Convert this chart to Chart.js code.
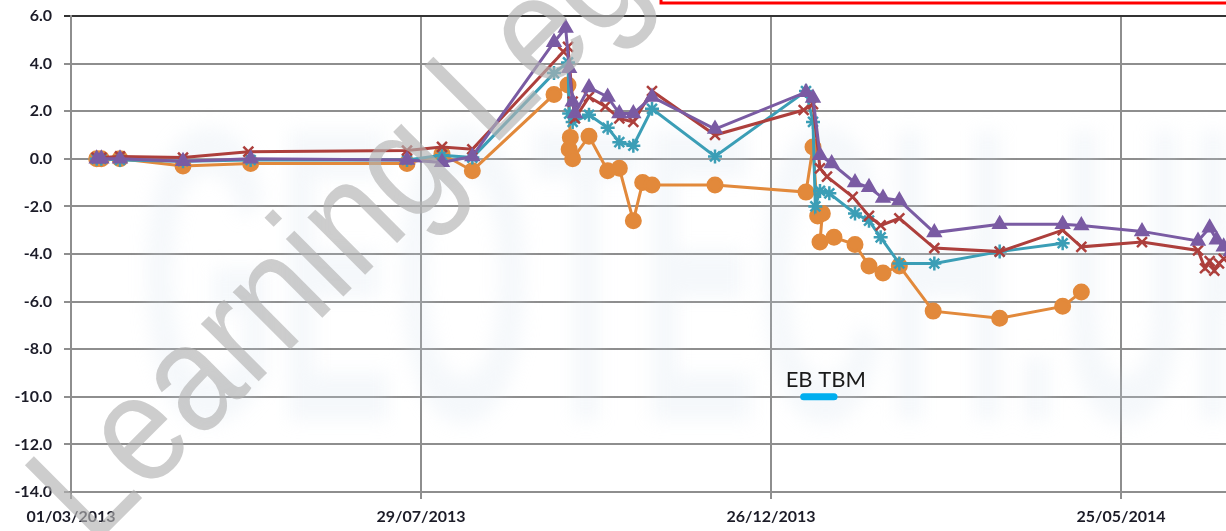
<!DOCTYPE html>
<html>
<head>
<meta charset="utf-8">
<script src="https://cdn.jsdelivr.net/npm/chart.js@4.4.1/dist/chart.umd.min.js"></script>
<style>
  html, body { margin: 0; padding: 0; background: #fff; }
  #wrap { width: 1226px; height: 531px; position: relative; }
</style>
</head>
<body>
<div id="wrap"><canvas id="c" width="1226" height="531"></canvas></div>
<script>
// === DATA (x = days since 01/03/2013) ===
const START = Date.UTC(2013, 2, 1);
const X_MIN = 0, X_MAX = 495;
const X_TICKS = [0, 150, 300, 450];
const Y_MIN = -14, Y_MAX = 6, Y_STEP = 2;

const purpleX = [11, 13, 21, 48, 77, 144, 159, 172, 207, 212, 213.5, 215, 216, 222, 230, 235, 241, 249, 276, 315, 318, 321, 326, 336, 342, 348, 355, 370, 398, 425, 433, 459, 483, 488, 491, 494, 497];
const purpleY = [0, 0, 0, -0.1, 0, -0.05, -0.15, 0.1, 4.9, 5.5, 3.8, 2.4, 1.9, 3.0, 2.6, 1.9, 1.9, 2.6, 1.25, 2.8, 2.55, 0.15, -0.2, -1.0, -1.2, -1.65, -1.75, -3.1, -2.75, -2.75, -2.8, -3.05, -3.45, -2.9, -3.4, -3.7, -3.9];

const redX = [11, 13, 21, 48, 76, 144, 159, 172, 211, 213, 215, 216, 222, 229, 235, 241, 249, 276, 314, 318, 321, 324, 335, 342, 347, 355, 370, 398, 425, 433, 459, 483, 486, 488, 490, 492, 494];
const redY = [0.05, 0.05, 0.1, 0.05, 0.3, 0.35, 0.5, 0.4, 4.5, 4.7, 2.4, 1.7, 2.6, 2.2, 1.7, 1.55, 2.85, 1.0, 2.05, 2.3, -0.4, -0.75, -1.6, -2.4, -2.8, -2.5, -3.75, -3.9, -3.0, -3.7, -3.5, -3.85, -4.6, -4.3, -4.7, -4.4, -4.2];

const tealX = [11, 13, 21, 48, 77, 144, 159, 172, 207, 213, 213.5, 215, 222, 230, 235, 241, 249, 276, 315, 318, 319, 321, 325, 336, 342, 347, 355, 370, 398, 425];
const tealY = [0, 0, -0.05, -0.1, -0.05, -0.05, 0.15, 0.05, 3.6, 4.05, 1.9, 1.55, 1.85, 1.3, 0.7, 0.55, 2.1, 0.1, 2.85, 1.55, -2.0, -1.35, -1.45, -2.3, -2.6, -3.3, -4.4, -4.4, -3.9, -3.55];

const orangeX = [11, 13, 21, 48, 77, 144, 159, 172, 207, 213, 214, 213.5, 215, 222, 230, 235, 241, 245, 249, 276, 315, 318, 320, 322, 321, 327, 336, 342, 348, 355, 369.5, 398, 425, 433];
const orangeY = [0, 0, 0, -0.3, -0.2, -0.2, 0.2, -0.5, 2.7, 3.1, 0.9, 0.4, 0.0, 0.95, -0.5, -0.4, -2.6, -1.0, -1.1, -1.1, -1.4, 0.5, -2.4, -2.3, -3.5, -3.3, -3.6, -4.5, -4.8, -4.5, -6.4, -6.7, -6.2, -5.6];

const tbmLabel = 'EB TBM';
const tbmX = [314, 327];
const tbmY = [-10, -10];

const pts = (xs, ys) => xs.map((x, i) => ({ x: x, y: ys[i] }));

function fmtDate(d) {
    const dt = new Date(START + d * 86400000);
    const p = n => String(n).padStart(2, '0');
    return p(dt.getUTCDate()) + '/' + p(dt.getUTCMonth() + 1) + '/' + dt.getUTCFullYear();
}

// faint background logo + grey "Learning Legends" watermark
const watermark = {
    id: 'watermark',
    beforeDatasetsDraw(chart) {
        const ctx = chart.ctx;
        ctx.save();
        ctx.filter = 'blur(9px)';
        ctx.fillStyle = 'rgba(210,222,235,0.22)';
        ctx.font = 'bold 420px "Liberation Sans"';
        ctx.translate(140, 420);
        ctx.scale(0.42, 1);
        ctx.fillText('GEOTECH.UK', 0, 0);
        ctx.restore();
    },
    afterDatasetsDraw(chart) {
        const ctx = chart.ctx;
        ctx.save();
        ctx.translate(92, 548);
        ctx.rotate(-45 * Math.PI / 180);
        ctx.scale(0.88, 1);
        ctx.fillStyle = 'rgba(178,178,178,0.65)';
        ctx.font = '154px "Liberation Sans"';
        ctx.fillText('Learning Legends', 0, 0);
        ctx.restore();

        // cut-off legend box at the top
        ctx.save();
        ctx.strokeStyle = '#ff0000';
        ctx.lineWidth = 3;
        ctx.strokeRect(661, -30, 600, 33);
        ctx.restore();

        // EB TBM label above its marker
        const meta = chart.getDatasetMeta(4);
        const p0 = meta.data[0];
        ctx.save();
        ctx.fillStyle = '#1a1a1a';
        ctx.font = '22px Lato';
        ctx.textBaseline = 'bottom';
        ctx.fillText(tbmLabel, p0.x - 18, p0.y - 6);
        ctx.restore();
    }
};

const tickFont = { family: 'Lato', size: 16, weight: 'bold' };

new Chart(document.getElementById('c'), {
    type: 'line',
    data: {
        datasets: [
            { data: pts(purpleX, purpleY), borderColor: '#7a5ba3', backgroundColor: '#7a5ba3', pointStyle: 'triangle', pointRadius: 6.5, borderWidth: 3 },
            { data: pts(redX, redY), borderColor: '#ad3f3c', backgroundColor: '#ad3f3c', pointStyle: 'crossRot', pointRadius: 7, pointBorderWidth: 2.5, borderWidth: 3 },
            { data: pts(tealX, tealY), borderColor: '#3b9eb6', backgroundColor: '#3b9eb6', pointStyle: 'star', pointRadius: 7, pointBorderWidth: 2.5, borderWidth: 3 },
            { data: pts(orangeX, orangeY), borderColor: '#e2893b', backgroundColor: '#e2893b', pointStyle: 'circle', pointRadius: 7, borderWidth: 3 },
            { data: pts(tbmX, tbmY), borderColor: '#00aeef', borderWidth: 7, borderCapStyle: 'round', pointRadius: 0 }
        ]
    },
    options: {
        responsive: false,
        animation: false,
        layout: { autoPadding: false, padding: { top: 16, right: 0, left: 0, bottom: 0 } },
        plugins: { legend: { display: false }, tooltip: { enabled: false } },
        scales: {
            x: {
                type: 'linear', min: X_MIN, max: X_MAX,
                afterBuildTicks: s => { s.ticks = X_TICKS.map(v => ({ value: v })); },
                afterFit: s => { s.height = 39; s.paddingLeft = 0; s.paddingRight = 0; },
                grid: { color: '#8e8e8e', lineWidth: 2, tickLength: 7 },
                border: { color: '#8e8e8e', width: 2 },
                ticks: { font: tickFont, color: '#1c1c28', padding: 8, maxRotation: 0, callback: v => fmtDate(v) }
            },
            y: {
                min: Y_MIN, max: Y_MAX,
                ticks: { stepSize: Y_STEP, font: tickFont, color: '#1c1c28', padding: 12, callback: v => v.toFixed(1) },
                afterFit: s => { s.width = 71; s.paddingTop = 0; s.paddingBottom = 0; },
                grid: {
                    tickLength: 7, lineWidth: 2,
                    color: c => c.tick && c.tick.value === Y_MAX ? '#333333' : '#8e8e8e'
                },
                border: { color: '#8e8e8e', width: 2 }
            }
        }
    },
    plugins: [watermark]
});
</script>
</body>
</html>
